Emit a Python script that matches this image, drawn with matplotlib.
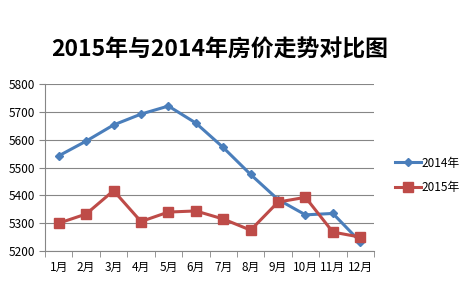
import numpy as np
import matplotlib
matplotlib.use("Agg")
import matplotlib.pyplot as plt

plt.rcParams['font.family'] = ['Noto Sans CJK SC', 'DejaVu Sans']

months = ['1月', '2月', '3月', '4月', '5月', '6月', '7月', '8月', '9月', '10月', '11月', '12月']
price_2014 = [5542, 5595, 5653, 5692, 5721, 5660, 5572, 5475, 5385, 5330, 5335, 5233]
price_2015 = [5300, 5333, 5417, 5306, 5340, 5344, 5315, 5275, 5376, 5393, 5268, 5250]

fig = plt.figure(figsize=(4.74, 2.83), dpi=100)
ax = fig.add_axes([0.095, 0.113, 0.694, 0.59])

x = np.arange(len(months))
ax.plot(x, price_2014, color='#4A7EBB', lw=2.2, marker='D', ms=4.5, label='2014年')
ax.plot(x, price_2015, color='#BE4B48', lw=2.2, marker='s', ms=6.5, label='2015年')

ax.set_xlim(-0.5, 11.5)
ax.set_ylim(5200, 5800)
ax.set_yticks(np.arange(5200, 5801, 100))
ax.set_xticks(x)
ax.set_xticklabels(months)
ax.set_xticks(np.arange(-0.5, 12, 1), minor=True)
ax.tick_params(axis='x', which='major', length=0, labelsize=8.5, pad=7)
ax.tick_params(axis='x', which='minor', length=4, color='#868686')
ax.tick_params(axis='y', length=4, color='#868686', labelsize=8.5, pad=3)
ax.grid(axis='y', color='#868686', lw=0.8)
ax.set_axisbelow(True)
for s in ['top', 'right']:
    ax.spines[s].set_visible(False)
for s in ['left', 'bottom']:
    ax.spines[s].set_color('#868686')

fig.text(0.464, 0.822, '2015年与2014年房价走势对比图', ha='center', va='center',
         fontsize=16.5, fontweight='bold')
fig.legend(loc='center left', bbox_to_anchor=(0.81, 0.38), frameon=False,
           fontsize=8.5, handlelength=2.2, handletextpad=0.1, labelspacing=1.0)

fig.savefig('out.png', dpi=100)
